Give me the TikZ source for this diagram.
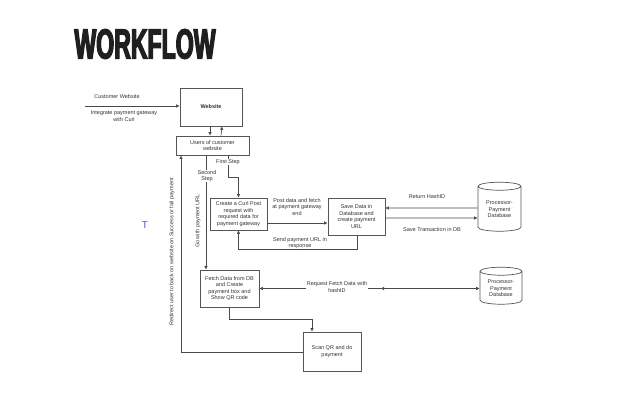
\documentclass[tikz,border=0pt]{standalone}
\usepackage{fontspec}
\setmainfont{Liberation Sans}
\newfontfamily\titlefont[FakeStretch=0.55,FakeBold=3]{Liberation Sans Bold}
\usepackage{tikz}
\usetikzlibrary{arrows.meta,positioning,shapes.geometric,decorations.markings}
\definecolor{cLine}{HTML}{4a4a4a}
\definecolor{cBox}{HTML}{555555}
\definecolor{cTxt}{HTML}{333333}
\definecolor{cT}{HTML}{5050e0}
\tikzset{
  proc/.style={draw=cBox,line width=0.7pt,fill=white,align=center,inner sep=1pt,
    font=\fontsize{5.5}{6.6}\selectfont,text=cTxt},
  dbase/.style={cylinder,shape border rotate=90,aspect=0.28,draw=cBox,line width=0.7pt,
    align=center,inner sep=1pt,font=\fontsize{5.5}{6.6}\selectfont,text=cTxt},
  lbl/.style={align=center,inner sep=0.5pt,font=\fontsize{5.5}{6.6}\selectfont,text=cTxt},
  wlbl/.style={lbl,fill=white},
  flow/.style={-{Latex[length=3.5pt,width=3.5pt]},line width=0.6pt,cLine},
  link/.style={line width=0.6pt,cLine},
}
\begin{document}
\begin{tikzpicture}[x=1pt,y=-1pt]
  \useasboundingbox (0,0) rectangle (640,402);
  \node[font=\titlefont\fontsize{42}{44}\selectfont,text=black!88,inner sep=0pt] (title) at (145,44) {WORKFLOW};
  \node[text=cT,font=\fontsize{10}{10}\selectfont,inner sep=0pt] (stray) at (145,225) {T};

  % boxes
  \node[proc,minimum width=62,minimum height=38,font=\fontsize{5.5}{6.6}\selectfont\bfseries] (website) at (211,107) {Website};
  \node[proc,minimum width=73,minimum height=19] (users) at (212.5,145.5) {Users of customer\\website};
  \node[proc,minimum width=57,minimum height=32] (create) at (238.5,214) {Create a Curl Post\\request with\\required data for\\payment gateway};
  \node[proc,minimum width=57,minimum height=37] (save) at (356.5,216.5) {Save Data in\\Database and\\create payment\\URL};
  \node[proc,minimum width=59,minimum height=37] (fetch) at (229.5,288.5) {Fetch Data from DB\\and Create\\payment box and\\Show QR code};
  \node[proc,minimum width=58,minimum height=39] (scan) at (332,351.5) {Scan QR and do\\payment};
  \node[dbase,minimum width=43,minimum height=49] (db1) at (499.5,209.5) {Processor-\\Payment\\Database};
  \node[dbase,minimum width=42,minimum height=37] (db2) at (501,288.5) {Processor-\\Payment\\Database};

  % entry from customer website
  \coordinate (cw) at (85,106);
  \draw[flow] (cw) -- ([yshift=1pt]website.west);
  \node[lbl] (cwtop) at (117,97) {Customer Website};
  \node[lbl] (cwbot) at (124,116) {Integrate payment gateway\\with Curl};

  % website <-> users
  \draw[flow] ([xshift=-1pt]website.south) -- ([xshift=-2.5pt]users.north);
  \draw[flow] ([xshift=8.5pt]users.north) -- ([xshift=11pt]website.south);

  % first step
  \coordinate (s1a) at (228,177);
  \coordinate (s1b) at (238.5,177);
  \draw[flow] ([xshift=15.5pt]users.south) -- (s1a) -- (s1b) -- (create.north);
  \node[wlbl] (first) at (228,162) {First Step};

  % second step
  \draw[flow] ([xshift=-6.5pt]users.south) -- ([xshift=-23.5pt]fetch.north);
  \node[wlbl] (second) at (207,176) {Second\\Step};
  \node[lbl,rotate=90] (gourl) at (198,221) {Go with payment URL};

  % redirect back
  \coordinate (rd) at (181,352);
  \draw[flow] ([yshift=-0.5pt]scan.west) -- (rd) -- ([xshift=-31.5pt]users.south);
  \node[lbl,rotate=90] (redirect) at (172,252) {Redirect user to back on website on Success or fail payment};

  % create <-> save
  \draw[flow] ([yshift=-9pt]create.east) -- ([yshift=-6.5pt]save.west);
  \node[lbl] (post) at (297,207) {Post data and fetch\\at payment gateway\\end};
  \coordinate (rt1) at (357,249);
  \coordinate (rt2) at (238.5,249);
  \draw[flow] ([xshift=0.5pt]save.south) -- (rt1) -- (rt2) -- (create.south);
  \node[lbl] (send) at (300,243) {Send payment URL in\\response};

  % save <-> db1
  \draw[flow] ([yshift=1.5pt]db1.west) -- ([yshift=8.5pt]save.east);
  \node[lbl] (hash) at (427,197) {Return HashID};
  \draw[flow] ([yshift=-1.5pt]save.east) -- ([yshift=-8.5pt]db1.west);
  \node[lbl] (trans) at (432,230) {Save Transaction in DB};

  % fetch <-> db2
  \draw[flow,{Latex[length=3.5pt,width=3.5pt]}-{Latex[length=3.5pt,width=3.5pt]},
    decoration={markings,mark=at position 0.45 with {\arrow{Latex[length=3.5pt,width=3.5pt]}}},postaction={decorate}]
    (db2.west) -- (fetch.east);
  \node[wlbl] (req) at (337,287) {Request Fetch Data with\\hashID};

  % fetch -> scan
  \coordinate (fs1) at (229,319);
  \coordinate (fs2) at (312,319);
  \draw[flow] ([xshift=-0.5pt]fetch.south) -- (fs1) -- (fs2) -- ([xshift=-20pt]scan.north);
\end{tikzpicture}
\end{document}
